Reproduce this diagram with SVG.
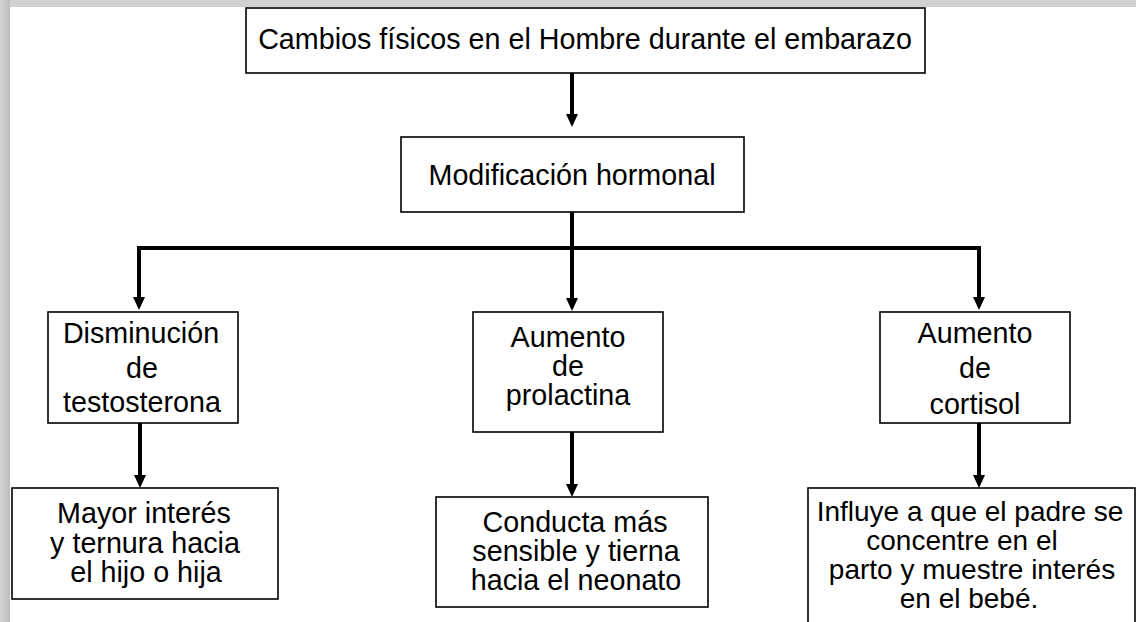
<svg xmlns="http://www.w3.org/2000/svg" width="1136" height="622" viewBox="0 0 1136 622">
<style>
.box{fill:#fff;stroke:#000;stroke-width:1.6}
.t{font-family:"Liberation Sans",Arial,sans-serif;font-size:28.7px;fill:#000;text-anchor:middle}
.s{font-size:28px}
.c{fill:none;stroke:#000;stroke-width:4;stroke-linejoin:miter}
</style>
<defs>
<linearGradient id="lg" x1="0" y1="0" x2="1" y2="0">
<stop offset="0" stop-color="#d4d4d4"/>
<stop offset="1" stop-color="#bcbcbc"/>
</linearGradient>
</defs>
<rect x="0" y="0" width="1136" height="622" fill="#fff"/>
<rect x="0" y="0" width="1136" height="7" fill="#d1d1d1"/>
<rect x="0" y="0" width="10" height="622" fill="url(#lg)"/>

<g id="connectors">
<path class="c" d="M572 73 V115"/>
<path d="M566 114 L578 114 L572 127 Z"/>
<path class="c" d="M572 212 V298"/>
<path d="M566 298 L578 298 L572 311 Z"/>
<path class="c" d="M139 298 V248 H979 V298"/>
<path d="M133 297 L145 297 L139 310 Z"/>
<path d="M973 297 L985 297 L979 310 Z"/>
<path class="c" d="M140 423 V476"/>
<path d="M134 475 L146 475 L140 488 Z"/>
<path class="c" d="M572 432 V485"/>
<path d="M566 484 L578 484 L572 497 Z"/>
<path class="c" d="M979 423 V476"/>
<path d="M973 475 L985 475 L979 488 Z"/>
</g>

<g id="n_top">
<rect class="box" x="246" y="8" width="679" height="65"/>
<text class="t" x="585" y="49">Cambios físicos en el Hombre durante el embarazo</text>
</g>
<g id="n_mod">
<rect class="box" x="401" y="137" width="343" height="75"/>
<text class="t" x="572" y="185">Modificación hormonal</text>
</g>
<g id="n_testo">
<rect class="box" x="48" y="312" width="190" height="111"/>
<text class="t"><tspan x="141" y="343">Disminución</tspan><tspan x="142" y="378">de</tspan><tspan x="142" y="412">testosterona</tspan></text>
</g>
<g id="n_prol">
<rect class="box" x="473" y="312" width="190" height="120"/>
<text class="t"><tspan x="568" y="347">Aumento</tspan><tspan x="568" y="376">de</tspan><tspan x="568" y="405">prolactina</tspan></text>
</g>
<g id="n_cort">
<rect class="box" x="880" y="312" width="190" height="111"/>
<text class="t"><tspan x="975" y="343">Aumento</tspan><tspan x="975" y="378">de</tspan><tspan x="975" y="414">cortisol</tspan></text>
</g>
<g id="n_interes">
<rect class="box" x="12" y="488" width="266" height="111"/>
<text class="t"><tspan x="144" y="523">Mayor interés</tspan><tspan x="145" y="553">y ternura hacia</tspan><tspan x="146" y="582">el hijo o hija</tspan></text>
</g>
<g id="n_conducta">
<rect class="box" x="436" y="497" width="272" height="110"/>
<text class="t"><tspan x="575" y="532">Conducta más</tspan><tspan x="576" y="561">sensible y tierna</tspan><tspan x="576" y="590">hacia el neonato</tspan></text>
</g>
<g id="n_influye">
<rect class="box" x="808" y="488" width="327" height="140"/>
<text class="t s"><tspan x="970" y="521">Influye a que el padre se</tspan><tspan x="962" y="550">concentre en el</tspan><tspan x="972" y="579">parto y muestre interés</tspan><tspan x="969" y="608">en el bebé.</tspan></text>
</g>
</svg>
